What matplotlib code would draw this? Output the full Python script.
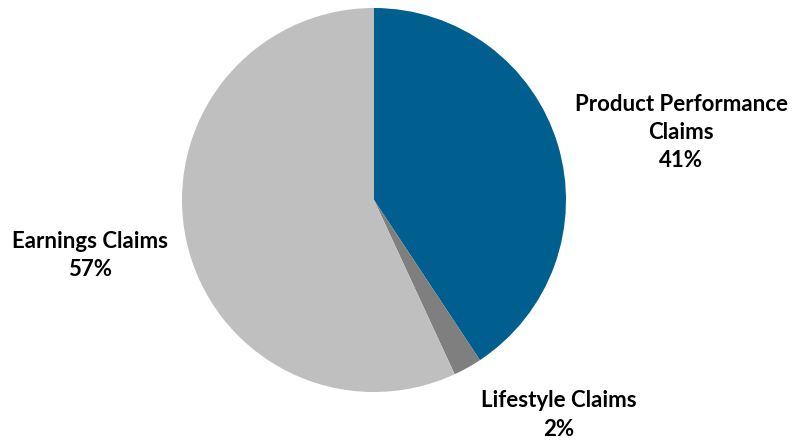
import matplotlib

matplotlib.use("Agg")

import matplotlib.pyplot as plt  # noqa: E402

categories = ["Product Performance\nClaims", "Lifestyle Claims", "Earnings Claims"]
shares = [40.7, 2.4, 56.9]
colors = ["#005F8F", "#7F7F7F", "#BFBFBF"]
# label centres in pie-radius units
label_pos = [(1.60, 0.35), (0.96, -1.12), (-1.48, -0.29)]

plt.rcParams["font.family"] = ["Lato", "DejaVu Sans"]

fig = plt.figure(figsize=(7.93, 4.40), dpi=100)
cx, cy, r = 374, 200, 192
ax = fig.add_axes([(cx - r) / 793, (440 - cy - r) / 440, 2 * r / 793, 2 * r / 440])

ax.pie(shares, colors=colors, startangle=90, counterclock=False, radius=1)
ax.set_xlim(-1, 1)
ax.set_ylim(-1, 1)
ax.set_aspect("equal")
ax.axis("off")

for name, val, (x, y) in zip(categories, shares, label_pos):
    ax.text(x, y, f"{name}\n{round(val):.0f}%", ha="center", va="center",
            fontsize=16, fontweight="bold", color="#000000", linespacing=1.42,
            clip_on=False)

fig.savefig("out.png", dpi=100)
